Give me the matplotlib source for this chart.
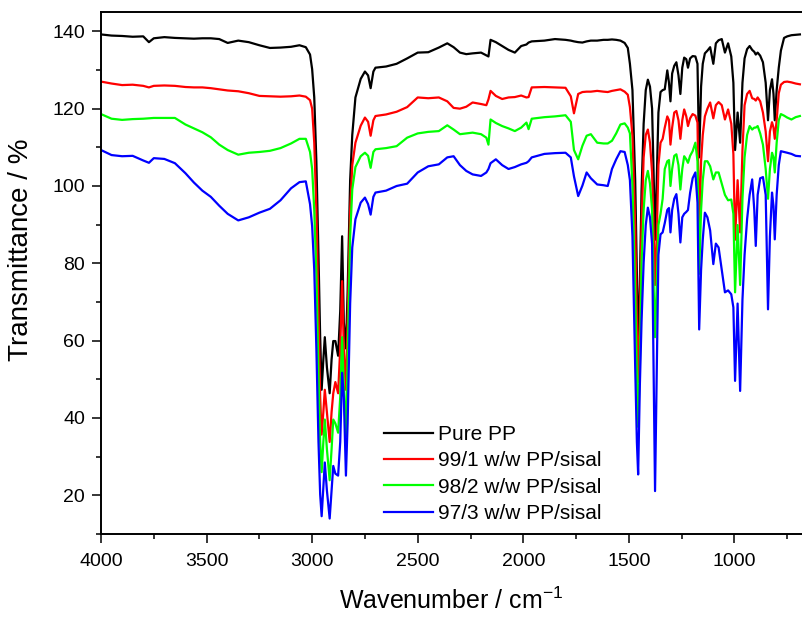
import numpy as np
import matplotlib
matplotlib.use("Agg")
import matplotlib.pyplot as plt
from matplotlib.ticker import MultipleLocator

plt.rcParams['font.family'] = ['Liberation Sans', 'DejaVu Sans']
plt.rcParams['mathtext.fontset'] = 'custom'
plt.rcParams['mathtext.rm'] = 'Liberation Sans'
plt.rcParams['mathtext.it'] = 'Liberation Sans:italic'

# wavenumber grid (cm-1)
wavenumber = [
    4000, 3950, 3900, 3850, 3800, 3773, 3750, 3700, 3650, 3600, 3560, 3520, 3480, 3440, 3400,
    3350, 3300, 3250, 3200, 3150, 3100, 3060, 3030, 3010, 3000, 2990, 2980, 2970, 2962, 2955,
    2947, 2940, 2930, 2917, 2908, 2900, 2890, 2877, 2867, 2858, 2850, 2840, 2832, 2820, 2810,
    2795, 2770, 2750, 2735, 2723, 2710, 2700, 2650, 2600, 2550, 2500, 2450, 2400, 2360, 2330,
    2300, 2270, 2240, 2200, 2175, 2165, 2155, 2130, 2100, 2070, 2040, 2010, 1985, 1975, 1960,
    1900, 1850, 1800, 1775, 1760, 1740, 1720, 1700, 1680, 1650, 1620, 1600, 1580, 1560, 1540,
    1520, 1505, 1495, 1483, 1470, 1462, 1456, 1448, 1440, 1430, 1420, 1410, 1400, 1390, 1382,
    1376, 1368, 1360, 1350, 1340, 1330, 1318, 1310, 1303, 1295, 1285, 1275, 1265, 1256, 1247,
    1238, 1228, 1220, 1210, 1198, 1185, 1175, 1167, 1158, 1150, 1140, 1128, 1115, 1100, 1088,
    1075, 1060, 1045, 1030, 1015, 1005, 997, 985, 973, 962, 952, 940, 928, 916, 906,
    899, 890, 878, 865, 852, 841, 832, 822, 815, 809, 800, 790, 780, 765, 750,
    730, 710, 690,
]

pure_pp = [
    139.2, 138.9, 138.8, 138.6, 138.7, 137.2, 138.2, 138.5, 138.3, 138.2, 138.1, 138.2, 138.2, 138.0, 137.0,
    137.6, 137.2, 136.4, 135.7, 135.8, 136.0, 136.4, 135.9, 134.0, 130.2, 122.9, 106.4, 82.2, 60.9, 47.3,
    55.1, 60.9, 53.1, 46.4, 55.1, 59.9, 59.9, 56.1, 67.7, 87.0, 64.8, 58.0, 72.5, 101.5, 113.2,
    122.9, 127.7, 129.6, 128.6, 125.3, 129.6, 130.6, 130.9, 131.6, 133.0, 134.5, 134.6, 135.8, 136.9, 135.9,
    134.5, 134.1, 134.3, 134.5, 133.8, 133.5, 137.8, 137.2, 136.2, 135.2, 134.5, 136.2, 136.6, 137.1, 137.4,
    137.6, 138.0, 137.8, 137.6, 137.4, 137.2, 137.1, 137.4, 137.6, 137.6, 137.8, 137.8, 137.9, 137.8, 137.6,
    137.0, 135.7, 131.6, 124.8, 101.5, 77.3, 59.0, 74.4, 98.6, 116.1, 124.8, 127.5, 125.7, 120.0, 101.5,
    86.1, 101.5, 119.0, 124.3, 124.8, 125.0, 129.9, 126.7, 121.9, 129.1, 131.1, 132.0, 128.6, 123.8, 130.6,
    133.2, 132.8, 130.6, 133.0, 133.6, 133.5, 131.6, 107.4, 125.7, 131.6, 134.3, 135.0, 135.9, 131.6, 136.9,
    137.7, 138.0, 134.5, 136.9, 133.5, 126.7, 109.3, 119.0, 111.2, 126.7, 133.0, 135.4, 136.2, 135.2, 134.7,
    134.0, 134.5, 133.7, 132.0, 126.7, 117.0, 124.8, 127.6, 123.8, 117.0, 124.8, 130.6, 135.0, 138.3, 138.7,
    139.0, 139.1, 139.2,
]

pp_sisal_99_1 = [
    127.0, 126.5, 126.1, 126.2, 125.9, 125.5, 125.9, 126.0, 125.9, 125.6, 125.5, 125.5, 125.3, 125.0, 124.7,
    124.5, 124.0, 123.3, 123.2, 123.1, 123.2, 123.4, 123.1, 122.2, 120.0, 111.2, 93.8, 67.7, 45.4, 35.7,
    41.5, 47.3, 41.5, 33.8, 41.5, 46.4, 49.3, 46.4, 58.0, 75.4, 58.0, 47.3, 64.8, 93.8, 105.4,
    111.2, 115.6, 117.7, 116.6, 113.0, 117.0, 118.1, 118.5, 119.2, 120.4, 122.9, 122.7, 122.9, 121.9, 120.2,
    120.0, 120.5, 121.6, 121.2, 120.9, 122.4, 124.6, 123.3, 122.5, 122.9, 123.0, 123.4, 122.9, 123.0, 125.5,
    125.6, 125.5, 125.4, 123.2, 118.8, 123.8, 124.3, 124.4, 124.4, 124.6, 124.4, 124.3, 124.6, 124.8, 125.0,
    124.4, 123.6, 120.4, 113.0, 89.9, 64.8, 49.3, 64.8, 89.9, 107.4, 113.2, 114.6, 111.2, 103.5, 87.0,
    74.4, 87.0, 105.4, 111.2, 112.2, 115.1, 118.0, 117.0, 110.7, 115.1, 119.0, 119.4, 117.0, 112.2, 117.0,
    119.8, 118.0, 115.5, 117.5, 118.6, 118.2, 116.4, 88.0, 106.4, 113.2, 118.0, 120.0, 121.6, 117.5, 120.9,
    121.7, 120.9, 117.2, 119.8, 116.1, 108.3, 86.1, 101.5, 88.0, 109.3, 120.9, 123.8, 124.6, 122.7, 122.5,
    122.1, 122.9, 121.9, 119.0, 114.1, 106.4, 114.1, 116.5, 115.1, 112.2, 117.0, 124.0, 126.2, 126.9, 127.0,
    126.8, 126.5, 126.3,
]

pp_sisal_98_2 = [
    118.6, 117.4, 117.1, 117.3, 117.4, 117.5, 117.6, 117.6, 117.6, 115.9, 114.9, 113.9, 112.6, 110.7, 109.3,
    108.1, 108.6, 108.8, 109.1, 109.8, 111.0, 112.2, 112.2, 108.8, 104.4, 93.8, 77.3, 51.2, 33.8, 26.0,
    33.8, 39.6, 31.9, 23.9, 31.9, 39.6, 38.6, 36.2, 45.4, 60.9, 48.3, 35.3, 55.1, 87.0, 99.1,
    104.9, 107.7, 108.6, 107.8, 104.7, 108.8, 109.5, 109.8, 110.3, 112.5, 113.6, 114.0, 114.2, 115.7, 114.6,
    113.4, 113.6, 113.8, 113.4, 112.5, 110.7, 117.2, 116.3, 115.5, 114.9, 114.2, 115.1, 116.4, 114.7, 117.4,
    117.8, 118.0, 118.3, 116.6, 109.3, 106.9, 110.4, 113.0, 113.4, 111.2, 111.0, 111.0, 111.7, 113.6, 115.9,
    116.2, 115.1, 113.6, 100.0, 72.5, 51.2, 37.7, 53.1, 80.2, 93.8, 101.5, 103.9, 100.6, 93.8, 72.5,
    60.9, 74.4, 89.9, 92.8, 96.7, 104.4, 106.4, 106.7, 100.0, 104.4, 107.8, 108.2, 105.4, 99.1, 104.4,
    107.7, 106.9, 106.0, 107.8, 109.0, 111.2, 106.4, 77.3, 93.8, 101.5, 106.4, 106.4, 105.1, 101.7, 103.5,
    103.5, 100.6, 97.7, 96.3, 96.5, 92.8, 72.5, 89.9, 74.4, 96.7, 107.4, 113.2, 115.5, 114.6, 115.1,
    115.1, 115.5, 113.6, 110.7, 104.4, 96.7, 104.4, 108.6, 107.4, 103.5, 111.2, 117.0, 118.6, 118.2, 117.7,
    117.2, 117.8, 118.1,
]

pp_sisal_97_3 = [
    109.3, 108.0, 107.7, 107.8, 106.6, 106.0, 107.2, 107.0, 105.9, 103.3, 100.9, 98.8, 97.2, 94.9, 92.8,
    91.1, 91.9, 93.1, 94.1, 96.3, 99.4, 101.0, 101.2, 95.3, 89.6, 78.3, 58.0, 33.8, 20.2, 14.6,
    22.2, 28.5, 21.2, 14.0, 21.2, 27.6, 25.6, 25.1, 33.8, 51.7, 45.4, 25.1, 38.6, 69.6, 84.1,
    91.4, 95.7, 97.0, 95.3, 92.6, 97.2, 98.3, 98.8, 100.0, 100.6, 103.5, 105.1, 105.6, 107.4, 107.7,
    105.4, 103.9, 103.0, 102.6, 103.5, 104.4, 105.9, 106.9, 105.4, 104.4, 104.9, 105.6, 106.0, 106.4, 107.4,
    108.3, 108.5, 108.6, 107.4, 102.5, 97.4, 100.1, 103.5, 102.0, 100.4, 100.2, 100.0, 104.4, 106.9, 109.0,
    108.8, 105.4, 101.5, 87.0, 53.1, 33.8, 25.4, 48.3, 64.8, 80.2, 89.9, 94.4, 91.9, 85.1, 48.3,
    21.1, 51.2, 82.2, 87.5, 88.0, 90.4, 93.8, 94.3, 88.0, 93.8, 96.7, 97.9, 92.8, 85.4, 91.9,
    92.8, 93.3, 93.8, 98.2, 102.0, 103.5, 95.7, 62.9, 78.3, 86.1, 93.1, 91.9, 88.5, 79.8, 85.1,
    84.1, 78.3, 72.5, 73.0, 72.0, 68.6, 49.6, 69.6, 47.0, 70.6, 82.2, 91.4, 97.7, 101.7, 93.8,
    84.5, 97.7, 102.0, 102.3, 97.7, 68.1, 87.0, 98.3, 94.8, 86.2, 97.7, 105.4, 109.0, 108.8, 108.6,
    108.3, 107.8, 107.7,
]

labels = ["Pure PP", "99/1 w/w PP/sisal", "98/2 w/w PP/sisal", "97/3 w/w PP/sisal"]
colors = ["#000000", "#FF0000", "#00FF00", "#0000FF"]
series = [pure_pp, pp_sisal_99_1, pp_sisal_98_2, pp_sisal_97_3]

fig = plt.figure(figsize=(8.02, 6.17), dpi=100)
ax = fig.add_axes([101 / 802, 83 / 617, 701 / 802, 522 / 617])

for y, lab, c in zip(series, labels, colors):
    ax.plot(wavenumber, y, color=c, lw=1.6, label=lab)

ax.set_xlim(4000, 680)
ax.set_ylim(10, 145)
ax.xaxis.set_major_locator(MultipleLocator(500))
ax.xaxis.set_minor_locator(MultipleLocator(250))
ax.yaxis.set_minor_locator(MultipleLocator(10))
ax.set_yticks(np.arange(20, 141, 20))

ax.tick_params(which='major', direction='out', length=6.5, width=1.1, labelsize=14)
ax.tick_params(which='minor', direction='out', length=3.6, width=1.1)
ax.tick_params(axis='x', which='major', pad=7)
ax.tick_params(axis='y', which='major', pad=5)
ax.tick_params(top=False, right=False)
for side in ['left', 'bottom', 'top']:
    ax.spines[side].set_linewidth(1.4)
ax.spines['right'].set_visible(False)

ax.set_xlabel(r'Wavenumber / cm$^{\mathregular{-1}}$', fontsize=18, labelpad=13)
ax.set_ylabel('Transmittance / %', fontsize=20)
ax.yaxis.set_label_coords(-0.095, 0.545)

ax.legend(loc='upper left', bbox_to_anchor=(384 / 802, 1 - 425 / 617),
          bbox_transform=fig.transFigure, frameon=False, fontsize=15,
          handlelength=2.35, handletextpad=0.25, labelspacing=0.35,
          borderpad=0, borderaxespad=0)

fig.savefig("out.png", dpi=100)
